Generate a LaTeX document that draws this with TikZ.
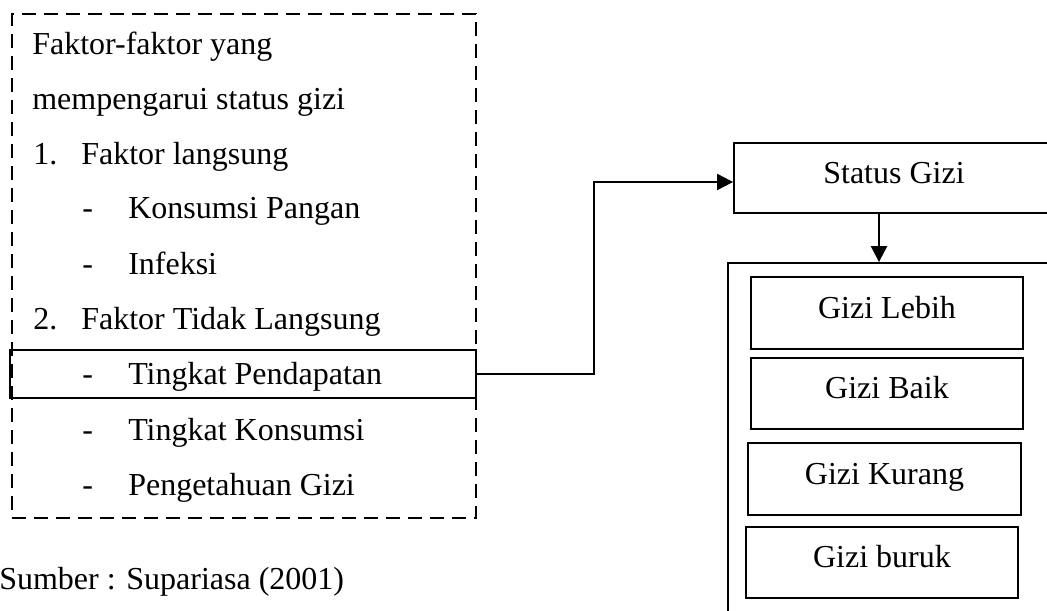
\documentclass[tikz,border=0pt]{standalone}
\usepackage{fontspec}
\setmainfont{Liberation Serif}
\usetikzlibrary{arrows.meta}
\begin{document}
\begin{tikzpicture}[x=0.75pt,y=-0.75pt,
  txt/.style={anchor=base west, inner sep=0pt, font=\fontsize{24}{28}\selectfont},
  boxline/.style={draw=black, line width=1.4pt},
  gbox/.style={boxline, rectangle, inner sep=0pt, font=\fontsize{24}{28}\selectfont, text height=12pt, text depth=4.5pt},
  dashbox/.style={draw=black, line width=1.4pt, dash pattern=on 10.5pt off 6pt},
  arr/.style={line width=1.6pt, -{Triangle[length=12pt,width=12pt]}}]
\useasboundingbox (0,0) rectangle (1047,611);
\clip (0,0) rectangle (1047,611);

% left dashed box
\node[dashbox, rectangle, inner sep=0pt, minimum width=464*0.75pt, minimum height=504*0.75pt] (factors) at (244,266) {};
% highlighted line box
\node[boxline, rectangle, inner sep=0pt, minimum width=466*0.75pt, minimum height=48*0.75pt] (tp) at (243,374) {};

\node[txt] (t1) at (32,54) {Faktor-faktor yang};
\node[txt] (t2) at (32,109) {mempengarui status gizi};
\node[txt] (n1) at (33,164) {1.};
\node[txt] (t3) at (81,164) {Faktor langsung};
\node[txt] (d1) at (82,218) {-};
\node[txt] (t4) at (128,218) {Konsumsi Pangan};
\node[txt] (d2) at (82,274) {-};
\node[txt] (t5) at (128,274) {Infeksi};
\node[txt] (n2) at (33,329) {2.};
\node[txt] (t6) at (81,329) {Faktor Tidak Langsung};
\node[txt] (d3) at (82,384.5) {-};
\node[txt] (t7) at (128,384.5) {Tingkat Pendapatan};
\node[txt] (d4) at (82,440) {-};
\node[txt] (t8) at (128,440) {Tingkat Konsumsi};
\node[txt] (d5) at (82,495) {-};
\node[txt] (t9) at (128,495) {Pengetahuan Gizi};

\node[txt] (src) at (-1,589) {Sumber : Supariasa (2001)};

% right side
\node[gbox, minimum width=320*0.75pt, minimum height=70*0.75pt] (status) at (894,178) {Status Gizi};
\node[boxline, rectangle, inner sep=0pt, minimum width=340*0.75pt, minimum height=380*0.75pt] (outer) at (898,453) {};

\node[gbox, minimum width=272*0.75pt, minimum height=72*0.75pt] (g1) at (887,313) {Gizi Lebih};
\node[gbox, minimum width=272*0.75pt, minimum height=71*0.75pt] (g2) at (887,393.5) {Gizi Baik};
\node[gbox, minimum width=273*0.75pt, minimum height=72*0.75pt] (g3) at (884.5,479) {Gizi Kurang};
\node[gbox, minimum width=272*0.75pt, minimum height=71*0.75pt] (g4) at (882,562.5) {Gizi buruk};

% connectors
\draw[arr] (tp.east) -- ++(117,0) |- ([yshift=-3pt]status.west);
\draw[arr] ([xshift=-11.25pt]status.south) -- ([xshift=-11.25pt]status.south |- outer.north);
\end{tikzpicture}
\end{document}
